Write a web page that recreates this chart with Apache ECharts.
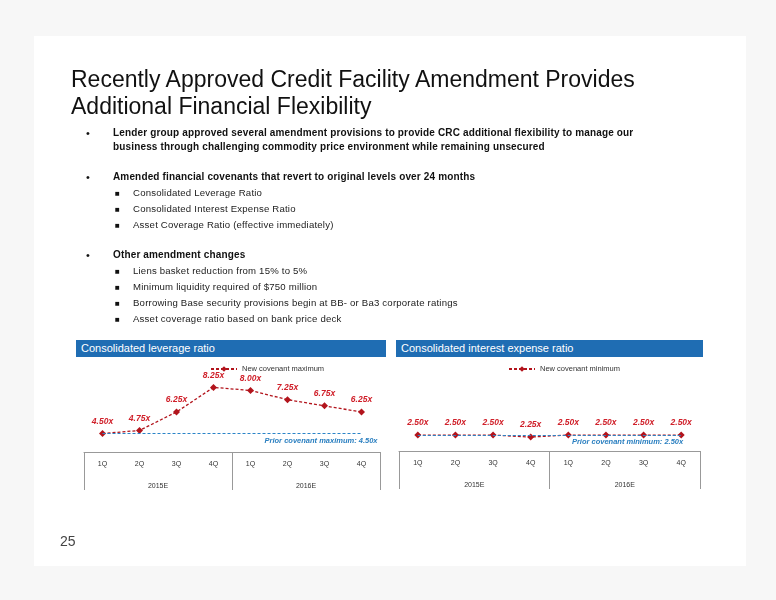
<!DOCTYPE html>
<html><head><meta charset="utf-8">
<script src="https://cdn.jsdelivr.net/npm/echarts@6/dist/echarts.min.js"></script>
<style>
body{margin:0;background:#fff;font-family:"Liberation Sans",Arial,sans-serif;}
#wrap{position:relative;width:776px;height:600px;overflow:hidden;background:#f7f7f7}
#slide{position:absolute;left:34px;top:36px;width:712px;height:530px;background:#fff}
.t{position:absolute;white-space:nowrap;color:#111}
.h{font-size:23px;color:#111;left:71px}
.b{font-size:10px;font-weight:bold;letter-spacing:0.15px;left:113px}
.s{font-size:9.6px;letter-spacing:0.2px;left:133px;color:#222}
.d{left:86px;font-size:11px}
.q{left:115px;font-size:8px}
.bar{position:absolute;height:17px;background:#1f6db3;color:#fff;font-size:11px;line-height:17px;padding-left:5px;box-sizing:border-box}
#c{position:absolute;left:0;top:0;width:776px;height:600px}
</style></head><body>
<div id="wrap">
<div id="slide"></div>
<div id="c"></div>
<div class="t h" style="top:66px">Recently Approved Credit Facility Amendment Provides</div>
<div class="t h" style="top:93px">Additional Financial Flexibility</div>
<div class="t d" style="top:127px">•</div>
<div class="t b" style="top:127px">Lender group approved several amendment provisions to provide CRC additional flexibility to manage our</div>
<div class="t b" style="top:141px">business through challenging commodity price environment while remaining unsecured</div>
<div class="t d" style="top:171px">•</div>
<div class="t b" style="top:171px">Amended financial covenants that revert to original levels over 24 months</div>
<div class="t q" style="top:189px">■</div><div class="t s" style="top:187px">Consolidated Leverage Ratio</div>
<div class="t q" style="top:205px">■</div><div class="t s" style="top:203px">Consolidated Interest Expense Ratio</div>
<div class="t q" style="top:221px">■</div><div class="t s" style="top:219px">Asset Coverage Ratio (effective immediately)</div>
<div class="t d" style="top:249px">•</div>
<div class="t b" style="top:249px">Other amendment changes</div>
<div class="t q" style="top:267px">■</div><div class="t s" style="top:265px">Liens basket reduction from 15% to 5%</div>
<div class="t q" style="top:283px">■</div><div class="t s" style="top:281px">Minimum liquidity required of $750 million</div>
<div class="t q" style="top:299px">■</div><div class="t s" style="top:297px">Borrowing Base security provisions begin at BB- or Ba3 corporate ratings</div>
<div class="t q" style="top:315px">■</div><div class="t s" style="top:313px">Asset coverage ratio based on bank price deck</div>
<div class="bar" style="left:76px;top:340px;width:310px">Consolidated leverage ratio</div>
<div class="bar" style="left:396px;top:340px;width:307px">Consolidated interest expense ratio</div>
<div class="t" style="left:60px;top:533px;font-size:14px;color:#444">25</div>
</div>
<script>
const quarters=['1Q','2Q','3Q','4Q','1Q','2Q','3Q','4Q'];
const years=['2015E','2016E'];
const leverage=[4.50,4.75,6.25,8.25,8.00,7.25,6.75,6.25];
const interest=[2.50,2.50,2.50,2.25,2.50,2.50,2.50,2.50];
const priorLev=4.50, priorInt=2.50;

const chart=echarts.init(document.getElementById('c'),null,{renderer:'canvas'});
const grids=[{left:84,width:296,top:372,height:80},{left:399,width:301,top:372,height:79}];
function xa(gi){return [
 {type:'category',gridIndex:gi,data:quarters,position:'bottom',
  axisLine:{lineStyle:{color:'#999'}},axisTick:{show:false},
  axisLabel:{color:'#333',fontSize:7,margin:9}},
 {type:'category',gridIndex:gi,data:years,position:'bottom',offset:38,
  axisLine:{show:false},axisTick:{show:true,inside:true,length:38,lineStyle:{color:'#999'}},
  axisLabel:{inside:true,margin:0,color:'#333',fontSize:7}}];}
function ser(gi,data,name,prior,ptxt,dx){return {
 type:'line',name:name,xAxisIndex:gi*2,yAxisIndex:gi,data:data,
 lineStyle:{color:'#b2141c',type:[3,2],width:1.3},itemStyle:{color:'#b2141c'},
 symbol:'diamond',symbolSize:7,
 label:{show:true,position:'top',distance:4,formatter:p=>p.value.toFixed(2)+'x',
  color:'#d0202a',fontStyle:'italic',fontWeight:'bold',fontSize:8.5},
 markLine:{silent:true,symbol:'none',
  lineStyle:{color:'#2a84c8',type:[3,2],width:1},
  label:{position:'insideEndBottom',formatter:ptxt,color:'#2a7fc0',fontStyle:'italic',fontWeight:'bold',fontSize:7.5,distance:[dx,3]},
  data:[[{coord:[0,prior]},{coord:[7,prior]}]]}};}
chart.setOption({
 animation:false,
 grid:grids,
 xAxis:[...xa(0),...xa(1)],
 yAxis:[{gridIndex:0,min:3,max:9.5,show:false},{gridIndex:1,min:0.5,max:10.4,show:false}],
 legend:[
  {data:['New covenant maximum'],left:205,top:360,itemWidth:26,itemHeight:7,textStyle:{fontSize:7.5,color:'#333'}},
  {data:['New covenant minimum'],left:503,top:360,itemWidth:26,itemHeight:7,textStyle:{fontSize:7.5,color:'#333'}}],
 series:[ser(0,leverage,'New covenant maximum',priorLev,'Prior covenant maximum: 4.50x',-16),
         ser(1,interest,'New covenant minimum',priorInt,'Prior covenant minimum: 2.50x',-2)]
});
</script>
</body></html>
